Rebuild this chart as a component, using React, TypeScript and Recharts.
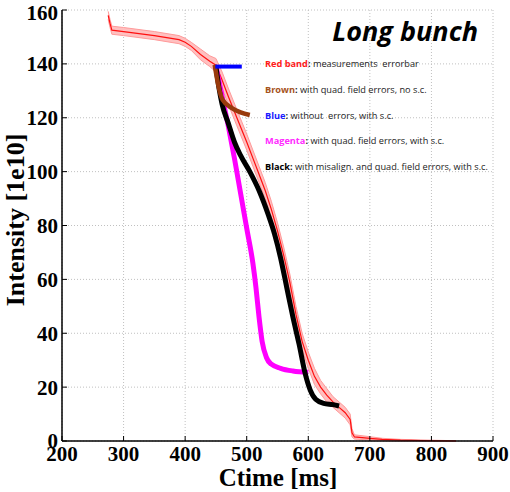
import {
  Area,
  CartesianGrid,
  ComposedChart,
  Line,
  XAxis,
  YAxis,
} from 'recharts';

// measured intensity (red) with its error band
const redT = [275, 278, 281, 300, 350, 390, 400, 410, 425, 440, 450, 460, 470, 484, 500, 510, 520, 530, 540, 550, 560, 570, 580, 590, 600, 610, 620, 630, 640, 650, 660, 668, 671, 675, 700, 720, 750, 800, 840];
const redI = [158, 155, 152.5, 152, 150.5, 149, 148, 146.5, 143.5, 141, 139.5, 134, 128, 120, 111, 105, 99, 93, 86, 78, 69, 59, 47, 37, 30, 24, 20, 17, 14.5, 12.5, 10.5, 8, 3, 1.5, 1, 0.6, 0.3, 0.1, 0];
const redErr = [1.5, 1.5, 1.5, 1.5, 1.5, 1.5, 1.5, 1.5, 2, 2, 2.5, 3, 3, 3, 3, 3, 3, 3, 3, 3, 3, 3, 3, 3, 3, 3, 2.5, 2.5, 2, 2, 2, 2, 1.5, 0.8, 0.6, 0.4, 0.3, 0.2, 0.1];

// simulations
const brownT = [448, 453, 461, 476, 490, 505];
const brownI = [139.6, 133, 126.6, 123.6, 122, 121];

const blueT = [449, 492];
const blueI = [139, 139];

const magentaT = [450, 460, 470, 480, 490, 500, 510, 515, 520, 525, 532, 540, 555, 575, 600];
const magentaI = [139, 128, 117, 105, 92, 79, 66, 57, 46, 37, 31, 28.5, 27, 26, 25.5];

const blackT = [450, 455, 460, 470, 480, 490, 505, 520, 535, 545, 555, 565, 575, 585, 595, 603, 612, 625, 640, 650];
const blackI = [139, 131, 125, 118, 111, 106, 100, 93, 84, 77, 68, 57, 46, 36, 25, 19, 15.5, 14, 13.5, 13];

const xTicks = [200, 300, 400, 500, 600, 700, 800, 900];
const yTicks = [0, 20, 40, 60, 80, 100, 120, 140, 160];

const legendRows = [
  { key: 'Red band', color: '#ff1a1a', text: ' measurements  errorbar' },
  { key: 'Brown', color: '#a5521b', text: ' with quad. field errors, no s.c.' },
  { key: 'Blue', color: '#1a1aff', text: ' without  errors, with s.c.' },
  { key: 'Magenta', color: '#ff2bff', text: ' with quad. field errors, with s.c.' },
  { key: 'Black', color: '#000000', text: ' with misalign. and quad. field errors, with s.c.' },
];

const toPts = (t: number[], v: number[]) => t.map((x, i) => ({ t: x, v: v[i] }));

const redData = redT.map((t, i) => ({
  t,
  v: redI[i],
  band: [Math.max(0, redI[i] - redErr[i]), redI[i] + redErr[i]],
}));

const tickFont = {
  fontFamily: '"Liberation Serif", serif',
  fontWeight: 700,
  fontSize: 21,
  fill: '#000',
};

export default function App() {
  return (
    <div style={{ position: 'absolute', left: 0, top: 0, width: 510, height: 492, background: '#fff' }}>
      <ComposedChart width={510} height={492} margin={{ top: 10, right: 17, bottom: 0, left: 0 }}>
        <CartesianGrid stroke="#c0c0c0" strokeDasharray="1 2" />
        <XAxis
          type="number"
          dataKey="t"
          domain={[200, 900]}
          ticks={xTicks}
          allowDataOverflow
          height={51}
          tick={tickFont}
          tickSize={-5}
          tickMargin={10}
          axisLine={{ stroke: '#000', strokeWidth: 1.5 }}
          tickLine={{ stroke: '#000' }}
        />
        <XAxis
          xAxisId="top"
          orientation="top"
          type="number"
          domain={[200, 900]}
          ticks={xTicks}
          height={0}
          tick={false}
          tickSize={-5}
          axisLine={{ stroke: '#000', strokeWidth: 1.5 }}
          tickLine={{ stroke: '#000' }}
        />
        <YAxis
          type="number"
          domain={[0, 160]}
          ticks={yTicks}
          width={62}
          tick={tickFont}
          tickSize={-5}
          tickMargin={9}
          axisLine={{ stroke: '#000', strokeWidth: 1.5 }}
          tickLine={{ stroke: '#000' }}
        />
        <YAxis
          yAxisId="right"
          orientation="right"
          type="number"
          domain={[0, 160]}
          ticks={yTicks}
          width={0}
          tick={false}
          tickSize={-5}
          axisLine={{ stroke: '#000', strokeWidth: 2 }}
          tickLine={{ stroke: '#000' }}
        />
        <Area
          data={redData}
          dataKey="band"
          type="linear"
          stroke="#ff9a9a"
          strokeWidth={1}
          fill="#ffc0c0"
          fillOpacity={1}
          isAnimationActive={false}
        />
        <Line data={redData} dataKey="v" type="linear" stroke="#ff1010" strokeWidth={1.2} dot={false} isAnimationActive={false} />
        <Line data={toPts(magentaT, magentaI)} dataKey="v" type="monotone" stroke="#ff00ff" strokeWidth={5} dot={false} isAnimationActive={false} />
        <Line data={toPts(blackT, blackI)} dataKey="v" type="monotone" stroke="#000000" strokeWidth={5} dot={false} isAnimationActive={false} />
        <Line data={toPts(brownT, brownI)} dataKey="v" type="monotone" stroke="#993a0c" strokeWidth={4.5} dot={false} isAnimationActive={false} />
        <Line data={toPts(blueT, blueI)} dataKey="v" type="linear" stroke="#0000ff" strokeWidth={4} dot={false} isAnimationActive={false} />
      </ComposedChart>

      <div
        style={{
          position: 'absolute',
          right: 32,
          top: 14,
          fontFamily: '"Open Sans", sans-serif',
          fontWeight: 700,
          fontStyle: 'italic',
          fontSize: 27,
          lineHeight: '34px',
          color: '#000',
        }}
      >
        Long bunch
      </div>

      {legendRows.map((r, i) => (
        <div
          key={r.key}
          style={{
            position: 'absolute',
            left: 265,
            top: 58 + i * 25.8,
            fontFamily: '"Open Sans", sans-serif',
            fontSize: 9.2,
            lineHeight: '12px',
            color: '#222',
            whiteSpace: 'pre',
          }}
        >
          <span style={{ color: r.color, fontWeight: 700 }}>{r.key}</span>
          <span style={{ fontWeight: 700 }}>:</span>
          {r.text}
        </div>
      ))}

      <div
        style={{
          position: 'absolute',
          left: 0,
          width: 510,
          top: 467,
          textAlign: 'center',
          paddingLeft: 46,
          boxSizing: 'border-box',
          fontFamily: '"Liberation Serif", serif',
          fontWeight: 700,
          fontSize: 25,
          lineHeight: '22px',
          color: '#000',
        }}
      >
        Ctime [ms]
      </div>
      <div
        style={{
          position: 'absolute',
          left: 16,
          top: 220,
          transform: 'translate(-50%, -50%) rotate(-90deg)',
          whiteSpace: 'nowrap',
          fontFamily: '"Liberation Serif", serif',
          fontWeight: 700,
          fontSize: 26,
          lineHeight: '26px',
          color: '#000',
        }}
      >
        Intensity [1e10]
      </div>
    </div>
  );
}
